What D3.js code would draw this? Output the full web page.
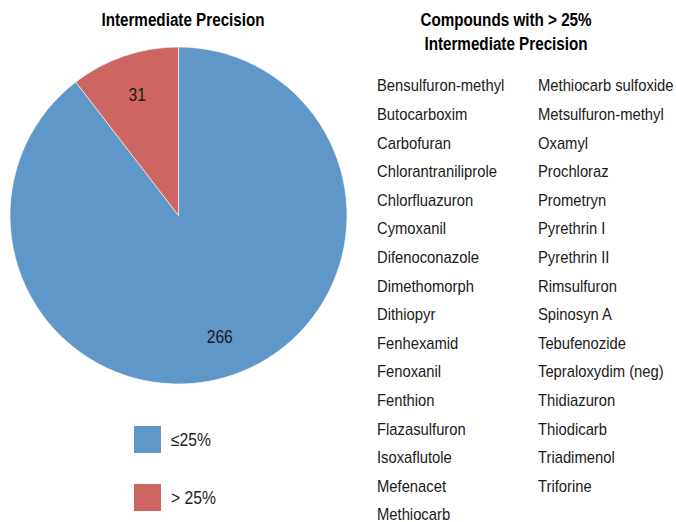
<!DOCTYPE html>
<html>
<head>
<meta charset="utf-8">
<script src="https://cdn.jsdelivr.net/npm/d3@7"></script>
<style>
  body { margin: 0; background: #fff; }
  svg { font-family: "Liberation Sans", Arial, sans-serif; }
</style>
</head>
<body>
<svg id="chart" width="676" height="522"></svg>
<script>
const categories = ["≤25%", "> 25%"];
const counts = [266, 31];
const colors = ["#6097c9", "#cd6660"];
const compoundsLeft = [
  "Bensulfuron-methyl", "Butocarboxim", "Carbofuran", "Chlorantraniliprole",
  "Chlorfluazuron", "Cymoxanil", "Difenoconazole", "Dimethomorph", "Dithiopyr",
  "Fenhexamid", "Fenoxanil", "Fenthion", "Flazasulfuron", "Isoxaflutole",
  "Mefenacet", "Methiocarb"
];
const compoundsRight = [
  "Methiocarb sulfoxide", "Metsulfuron-methyl", "Oxamyl", "Prochloraz",
  "Prometryn", "Pyrethrin I", "Pyrethrin II", "Rimsulfuron", "Spinosyn A",
  "Tebufenozide", "Tepraloxydim (neg)", "Thidiazuron", "Thiodicarb",
  "Triadimenol", "Triforine"
];

// the original uses a condensed face; squeeze Liberation Sans horizontally
const squeeze = 0.87;
const place = (x, y) => `translate(${x},${y}) scale(${squeeze},1)`;

const svg = d3.select("#chart");
const cx = 178.5, cy = 215.5, r = 168.5;

const data = categories.map((c, i) => ({ cat: c, value: counts[i], color: colors[i] }));
const pie = d3.pie().sort(null).value(d => d.value);
const arc = d3.arc().innerRadius(0).outerRadius(r);
const arcs = pie(data);

const g = svg.append("g").attr("transform", `translate(${cx},${cy})`);
g.selectAll("path")
  .data(arcs)
  .join("path")
  .attr("d", arc)
  .attr("fill", d => d.data.color)
  .attr("stroke", "#fff")
  .attr("stroke-width", 0.6);

// value labels
const labelArc = d3.arc().innerRadius(r * 0.76).outerRadius(r * 0.76);
g.selectAll("text.val")
  .data(arcs)
  .join("text")
  .attr("class", "val")
  .attr("transform", d => {
    const [x, y] = labelArc.centroid(d);
    return place(x, y);
  })
  .attr("text-anchor", "middle")
  .attr("dy", "0.35em")
  .attr("font-size", 18)
  .attr("fill", "#1a1a1a")
  .text(d => d.data.value);

// titles
svg.append("text")
  .attr("transform", place(183, 26))
  .attr("text-anchor", "middle")
  .attr("font-weight", "bold").attr("font-size", 17.5)
  .text("Intermediate Precision");

svg.append("text")
  .attr("transform", place(506, 26))
  .attr("text-anchor", "middle")
  .attr("font-weight", "bold").attr("font-size", 17.5)
  .selectAll("tspan")
  .data(["Compounds with > 25%", "Intermediate Precision"])
  .join("tspan")
  .attr("x", 0)
  .attr("dy", (d, i) => i === 0 ? 0 : 24)
  .text(d => d);

// legend
const leg = svg.append("g");
const legY = d3.scalePoint().domain(categories).range([439.5, 497.5]);
leg.selectAll("rect")
  .data(data)
  .join("rect")
  .attr("x", 134)
  .attr("y", d => legY(d.cat) - 13.5)
  .attr("width", 27).attr("height", 27)
  .attr("fill", d => d.color);
leg.selectAll("text")
  .data(data)
  .join("text")
  .attr("transform", d => place(171, legY(d.cat)))
  .attr("dy", "0.35em")
  .attr("font-size", 18)
  .attr("fill", "#222")
  .text(d => d.cat);

// compound lists
const rowY = d3.scaleLinear().domain([0, 15]).range([85.5, 514.5]);
[[compoundsLeft, 377], [compoundsRight, 538]].forEach(([list, x]) => {
  svg.append("g").selectAll("text")
    .data(list)
    .join("text")
    .attr("transform", (d, i) => place(x, rowY(i)))
    .attr("dy", "0.35em")
    .attr("font-size", 17)
    .attr("fill", "#1a1a1a")
    .text(d => d);
});
</script>
</body>
</html>
